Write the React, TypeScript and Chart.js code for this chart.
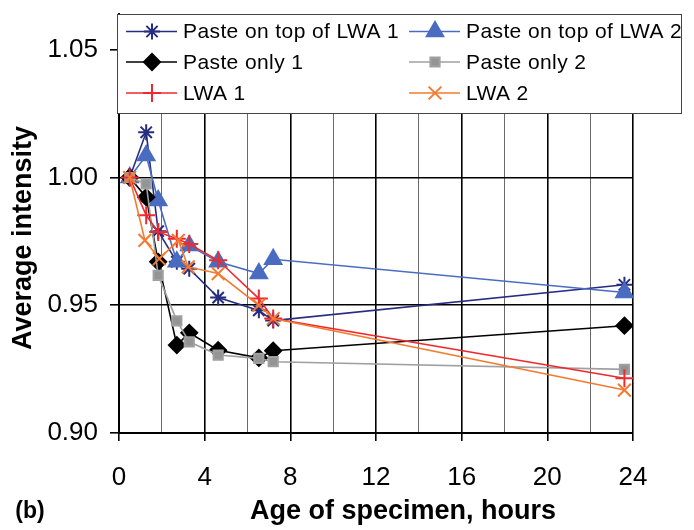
import React, { useEffect, useRef } from 'react';
import { Chart, registerables } from 'chart.js';
import { drawPoint } from 'chart.js/helpers';

Chart.register(...registerables);

// ---- data ----
const hours = [0.5, 1.27, 1.83, 2.7, 3.28, 4.63, 6.53, 7.2, 23.6];
const hoursLwa2 = [0.5, 1.21, 1.88, 2.77, 3.23, 4.63, 6.53, 7.2, 23.6];
const pasteTopLwa1 = [1.0, 1.0177, 0.979, 0.967, 0.9643, 0.953, 0.948, 0.944, 0.958];
const pasteTopLwa2 = [1.0, 1.0086, 0.991, 0.967, 0.9734, 0.967, 0.9624, 0.968, 0.955];
const pasteOnly1 = [1.0, 0.9923, 0.967, 0.9344, 0.9392, 0.9324, 0.9294, 0.9322, 0.942];
const pasteOnly2 = [1.0, 0.9975, 0.9617, 0.9439, 0.9357, 0.9305, 0.9292, 0.9279, 0.9249];
const lwa1 = [1.0, 0.9852, 0.9787, 0.976, 0.974, 0.9676, 0.9526, 0.9448, 0.9214];
const lwa2 = [1.0, 0.9754, 0.9682, 0.9754, 0.965, 0.9624, 0.95, 0.9448, 0.9168];

const seriesNames = [
  'Paste on top of LWA 1',
  'Paste on top of LWA 2',
  'Paste only 1',
  'Paste only 2',
  'LWA 1',
  'LWA 2',
];
const xTicks = [0, 2, 4, 6, 8, 10, 12, 14, 16, 18, 20, 22, 24];
const yTicks = [0.9, 0.95, 1.0, 1.05];

const FONT = '"Liberation Sans", Arial, sans-serif';

const toPts = (xs: number[], ys: number[]) => ys.map((y, i) => ({ x: xs[i], y }));

export default function App() {
  const ref = useRef<HTMLCanvasElement | null>(null);

  useEffect(() => {
    if (!ref.current) return;
    const styles = [
      { color: '#262C80', point: 'star', r: 8, fill: '#262C80' },
      { color: '#4A6CC0', point: 'triangle', r: 9.5, fill: '#4A6CC0' },
      { color: '#000000', point: 'rectRot', r: 8, fill: '#000000' },
      { color: '#A0A0A0', point: 'rect', r: 6.5, fill: '#949494' },
      { color: '#EE2A2E', point: 'cross', r: 9, fill: '#EE2A2E' },
      { color: '#F47A30', point: 'crossRot', r: 9, fill: '#F47A30' },
    ];
    const values = [pasteTopLwa1, pasteTopLwa2, pasteOnly1, pasteOnly2, lwa1, lwa2];
    const datasets = values.map((v, i) => ({
      label: seriesNames[i],
      data: toPts(i === 5 ? hoursLwa2 : hours, v),
      borderColor: styles[i].color,
      backgroundColor: styles[i].fill,
      pointBorderColor: styles[i].color,
      pointBackgroundColor: styles[i].fill,
      pointStyle: styles[i].point as any,
      pointRadius: styles[i].r,
      pointBorderWidth: 2,
      borderWidth: 1.6,
      tension: 0,
      order: 6 - i,
    }));

    const decor = {
      id: 'decor',
      afterDraw(chart: any) {
        const ctx = chart.ctx as CanvasRenderingContext2D;
        ctx.save();
        // legend box
        const bx = 117, by = 14, bw = 564, bh = 99;
        ctx.fillStyle = '#fff';
        ctx.fillRect(bx, by, bw, bh);
        ctx.strokeStyle = '#444';
        ctx.lineWidth = 1;
        ctx.strokeRect(bx + 0.5, by + 0.5, bw, bh);
        const colX = [126, 409];
        const rowY = [31.5, 62, 93];
        chart.data.datasets.forEach((ds: any, i: number) => {
          const x0 = colX[i % 2];
          const y0 = rowY[Math.floor(i / 2)];
          ctx.strokeStyle = ds.borderColor;
          ctx.lineWidth = 1.6;
          ctx.beginPath();
          ctx.moveTo(x0, y0);
          ctx.lineTo(x0 + 51, y0);
          ctx.stroke();
          ctx.fillStyle = ds.pointBackgroundColor;
          ctx.strokeStyle = ds.pointBorderColor;
          ctx.lineWidth = 2;
          drawPoint(ctx, { pointStyle: ds.pointStyle, radius: ds.pointRadius, rotation: 0, borderWidth: 2 } as any, x0 + 26, y0);
          ctx.fillStyle = '#000';
          ctx.font = `21px ${FONT}`;
          (ctx as any).letterSpacing = '0.4px';
          ctx.textAlign = 'left';
          ctx.textBaseline = 'middle';
          ctx.fillText(ds.label, x0 + 57, y0 + 1);
          (ctx as any).letterSpacing = '0px';
        });
        // axis titles
        ctx.fillStyle = '#000';
        ctx.font = `bold 27px ${FONT}`;
        ctx.textAlign = 'center';
        ctx.textBaseline = 'middle';
        ctx.fillText('Age of specimen, hours', 403, 512);
        ctx.font = `bold 23px ${FONT}`;
        ctx.fillText('(b)', 30, 512);
        ctx.save();
        ctx.translate(24, 238);
        ctx.rotate(-Math.PI / 2);
        ctx.font = `bold 27px ${FONT}`;
        ctx.fillText('Average intensity', 0, 0);
        ctx.restore();
        ctx.restore();
      },
    };

    const chart = new Chart(ref.current, {
      type: 'line',
      data: { datasets: datasets as any },
      options: {
        responsive: false,
        animation: false,
        devicePixelRatio: 1,
        layout: { padding: { left: 0, right: 61, top: 14, bottom: 0 } },
        plugins: { legend: { display: false }, tooltip: { enabled: false } },
        scales: {
          x: {
            type: 'linear',
            min: 0,
            max: 24,
            afterBuildTicks: (s: any) => {
              s.ticks = xTicks.map((v) => ({ value: v }));
            },
            afterFit: (s: any) => {
              s.height = 97;
              s.paddingLeft = 0;
              s.paddingRight = 0;
            },
            ticks: {
              autoSkip: false,
              maxRotation: 0,
              padding: 21,
              color: '#000',
              font: { size: 26, family: FONT },
              callback: (v: any) => (Number(v) % 4 === 0 ? String(v) : ''),
            },
            grid: {
              color: (c: any) => (c.tick && c.tick.value % 4 === 0 ? '#000' : '#6a6a6a'),
              lineWidth: (c: any) => (c.tick && c.tick.value % 4 === 0 ? 1.6 : 1),
              tickColor: (c: any) => (c.tick && c.tick.value % 4 === 0 ? '#000' : 'rgba(0,0,0,0)'),
              tickLength: 8,
            },
            border: { display: true, color: '#000', width: 2 },
          },
          y: {
            type: 'linear',
            min: 0.9,
            max: 1.064,
            afterBuildTicks: (s: any) => {
              s.ticks = yTicks.map((v) => ({ value: v }));
            },
            afterFit: (s: any) => {
              s.width = 119;
              s.paddingTop = 0;
              s.paddingBottom = 0;
            },
            ticks: {
              padding: 12,
              color: '#000',
              font: { size: 26, family: FONT },
              callback: (v: any) => Number(v).toFixed(2),
            },
            grid: {
              color: '#000',
              lineWidth: 1.6,
              tickLength: 9,
            },
            border: { display: true, color: '#000', width: 2 },
          },
        },
      },
      plugins: [decor],
    });
    return () => chart.destroy();
  }, []);

  return (
    <div style={{ position: 'absolute', left: 0, top: 0, width: 694, height: 530, background: '#fff' }}>
      <canvas ref={ref} width={694} height={530} style={{ width: 694, height: 530, display: 'block' }} />
    </div>
  );
}
